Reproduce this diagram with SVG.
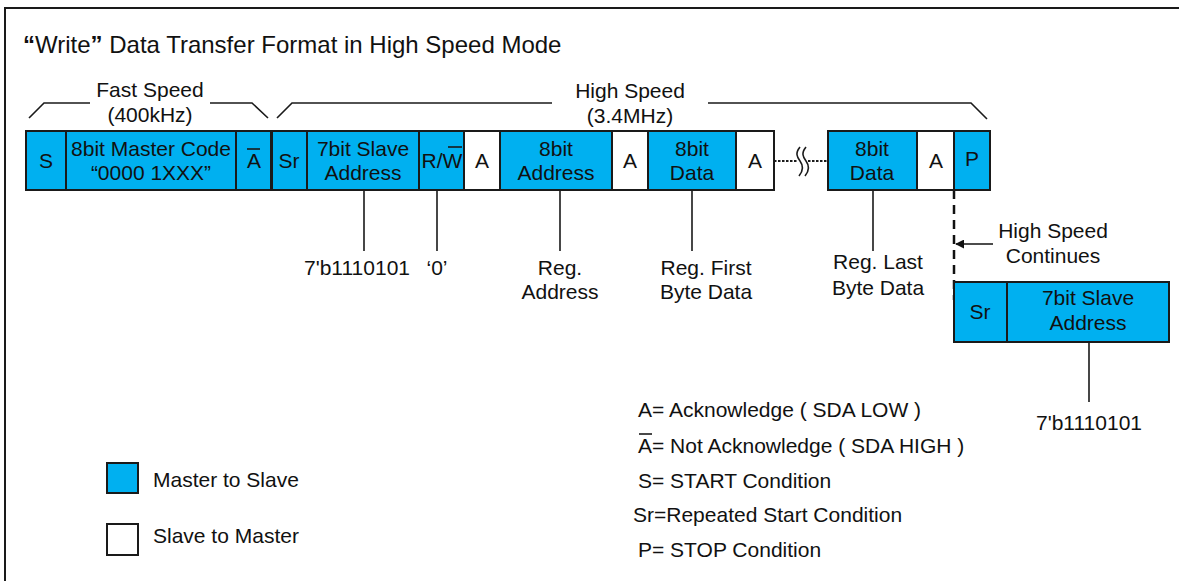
<svg xmlns="http://www.w3.org/2000/svg" width="1179" height="581" viewBox="0 0 1179 581">
<style>
text{font-family:"Liberation Sans",Arial,sans-serif;font-size:21px;fill:#111}
.m{text-anchor:middle}
.b{fill:#00B0F0;stroke:#1a1a1a;stroke-width:2}
.w{fill:#fff;stroke:#1a1a1a;stroke-width:2}
.ln{stroke:#1a1a1a;stroke-width:1.6;fill:none}
.leg{font-size:21px}
</style>
<defs>
<marker id="ah" viewBox="0 0 10 10" refX="9" refY="5" markerWidth="9" markerHeight="9" markerUnits="userSpaceOnUse" orient="auto"><path d="M0,0L10,5L0,10z" fill="#111"/></marker>
</defs>
<path d="M5,581V8H1179" fill="none" stroke="#1a1a1a" stroke-width="2"/>
<text x="23" y="53" style="font-size:24px"><tspan font-weight="bold">“</tspan>Write<tspan font-weight="bold">”</tspan> Data Transfer Format in High Speed Mode</text>
<g id="braces">
<path class="ln" d="M29,118L44,103H90M210,103H252L268,118"/>
<text class="m" x="150" y="97">Fast Speed</text>
<text class="m" x="150" y="122">(400kHz)</text>
<path class="ln" d="M277,118L292,103H552M708,103H971L987,119"/>
<text class="m" x="630" y="98">High Speed</text>
<text class="m" x="630" y="123">(3.4MHz)</text>
</g>
<g id="connectors">
<path class="ln" d="M364,190V251M437,190V251M560,190V251M692,190V251M873,190V251M1089,342V402"/>
<path d="M774,161H798M808,161H828" stroke="#1a1a1a" stroke-width="2" stroke-dasharray="2.5,1.5" fill="none"/>
<path class="ln" d="M800,147C795,153 797,157 800,161C803,165 804,170 799,176M806,147C801,153 803,157 806,161C809,165 810,170 805,176"/>
<path d="M954,190V300" stroke="#111" stroke-width="2.5" stroke-dasharray="9,6" fill="none"/>
<path d="M993,244H956" stroke="#111" stroke-width="1.6" marker-end="url(#ah)"/>
</g>
<g id="n-s"><rect class="b" x="26" y="131" width="40" height="59"/><text class="m" x="46" y="168">S</text></g>
<g id="n-master-code"><rect class="b" x="66" y="131" width="170" height="59"/><text class="m" x="151" y="156">8bit Master Code</text><text class="m" x="151" y="180">“0000 1XXX”</text></g>
<g id="n-nack"><rect class="b" x="236" y="131" width="35" height="59"/><text class="m" x="254" y="168">A</text><path class="ln" d="M247,149H260"/></g>
<g id="n-sr"><rect class="b" x="272" y="131" width="35" height="59"/><text class="m" x="289" y="168">Sr</text></g>
<g id="n-slave-addr"><rect class="b" x="307" y="131" width="112" height="59"/><text class="m" x="363" y="156">7bit Slave</text><text class="m" x="363" y="180">Address</text></g>
<g id="n-rw"><rect class="b" x="419" y="131" width="45" height="59"/><text class="m" x="442" y="168">R/W</text><path class="ln" d="M448,147H462"/></g>
<g id="n-a1"><rect class="w" x="464" y="131" width="36" height="59"/><text class="m" x="482" y="168">A</text></g>
<g id="n-reg-addr"><rect class="b" x="500" y="131" width="112" height="59"/><text class="m" x="556" y="156">8bit</text><text class="m" x="556" y="180">Address</text></g>
<g id="n-a2"><rect class="w" x="612" y="131" width="36" height="59"/><text class="m" x="630" y="168">A</text></g>
<g id="n-data1"><rect class="b" x="648" y="131" width="88" height="59"/><text class="m" x="692" y="156">8bit</text><text class="m" x="692" y="180">Data</text></g>
<g id="n-a3"><rect class="w" x="736" y="131" width="38" height="59"/><text class="m" x="755" y="168">A</text></g>
<g id="n-data2"><rect class="b" x="828" y="131" width="89" height="59"/><text class="m" x="872" y="156">8bit</text><text class="m" x="872" y="180">Data</text></g>
<g id="n-a4"><rect class="w" x="917" y="131" width="37" height="59"/><text class="m" x="936" y="168">A</text></g>
<g id="n-p"><rect class="b" x="954" y="131" width="36" height="59"/><text class="m" x="972" y="166">P</text></g>
<g id="n-sr2"><rect class="b" x="954" y="282" width="53" height="60"/><text class="m" x="980" y="319">Sr</text></g>
<g id="n-slave-addr2"><rect class="b" x="1007" y="282" width="162" height="60"/><text class="m" x="1088" y="305">7bit Slave</text><text class="m" x="1088" y="330">Address</text></g>
<g id="labels">
<text class="m" x="357" y="275">7'b1110101</text>
<text class="m" x="437" y="275">‘0’</text>
<text class="m" x="560" y="275">Reg.</text>
<text class="m" x="560" y="299">Address</text>
<text class="m" x="706" y="275">Reg. First</text>
<text class="m" x="706" y="299">Byte Data</text>
<text class="m" x="878" y="269">Reg. Last</text>
<text class="m" x="878" y="295">Byte Data</text>
<text class="m" x="1053" y="238">High Speed</text>
<text class="m" x="1053" y="263">Continues</text>
<text class="m" x="1089" y="430">7'b1110101</text>
</g>
<g id="legend">
<text class="leg" x="638" y="417">A= Acknowledge ( SDA LOW )</text>
<text class="leg" x="638" y="453">A= Not Acknowledge ( SDA HIGH )</text>
<path class="ln" d="M639,434H652"/>
<text class="leg" x="638" y="488">S= START Condition</text>
<text class="leg" x="633" y="522">Sr=Repeated Start Condition</text>
<text class="leg" x="638" y="557">P= STOP Condition</text>
<rect class="b" x="107" y="463" width="31" height="30"/>
<text class="leg" x="153" y="487">Master to Slave</text>
<rect class="w" x="107" y="524" width="31" height="31"/>
<text class="leg" x="153" y="543">Slave to Master</text>
</g>
</svg>
